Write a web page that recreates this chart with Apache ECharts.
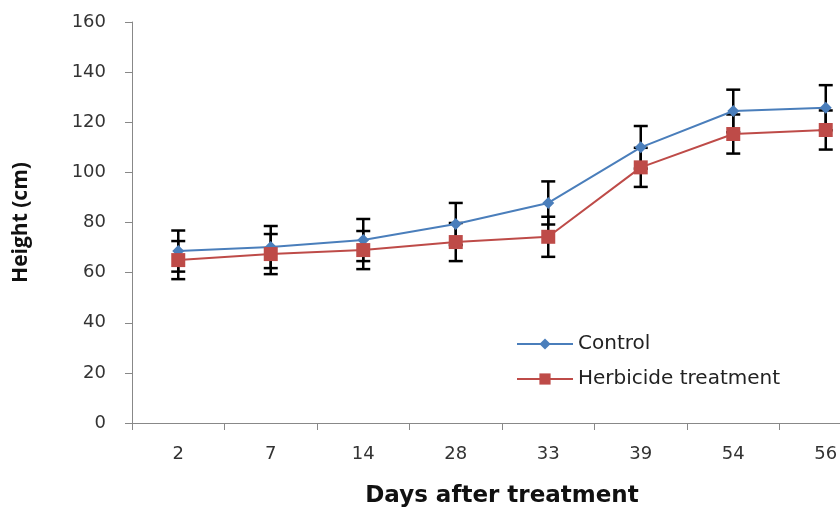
<!DOCTYPE html>
<html><head><meta charset="utf-8">
<script src="https://cdn.jsdelivr.net/npm/echarts@6/dist/echarts.min.js"></script>
<style>html,body{margin:0;padding:0;background:#fff;overflow:hidden;width:840px;height:508px}#c{width:880px;height:508px}</style>
</head><body><div id="c"></div>
<script>
const categories = ['2','7','14','28','33','39','54','56'];
const controlValues = [68.6, 70.2, 73.0, 79.4, 87.8, 110.0, 124.5, 125.8];
const controlErrors = [8.2, 8.4, 8.4, 8.4, 8.6, 8.5, 8.5, 9.0];
const herbicideValues = [65.0, 67.4, 69.0, 72.2, 74.3, 102.0, 115.3, 116.9];
const herbicideErrors = [7.6, 8.0, 7.6, 7.6, 8.0, 7.8, 7.8, 7.8];
const yTicks = {min: 0, max: 160, interval: 20};

const font = '"DejaVu Sans", "Open Sans", sans-serif';

function errData(vals, errs) {
  return vals.map((v, i) => [i, v - errs[i], v + errs[i]]);
}
function errRender(params, api) {
  const x = api.value(0);
  const lo = api.coord([x, api.value(1)]);
  const hi = api.coord([x, api.value(2)]);
  const hw = 7;
  const style = {stroke: '#000', lineWidth: 2.5};
  return {
    type: 'group',
    children: [
      {type: 'line', shape: {x1: lo[0], y1: lo[1], x2: hi[0], y2: hi[1]}, style: style},
      {type: 'line', shape: {x1: lo[0] - hw, y1: lo[1], x2: lo[0] + hw, y2: lo[1]}, style: style},
      {type: 'line', shape: {x1: hi[0] - hw, y1: hi[1], x2: hi[0] + hw, y2: hi[1]}, style: style}
    ]
  };
}

const chart = echarts.init(document.getElementById('c'), null, {renderer: 'canvas'});
chart.setOption({
  animation: false,
  backgroundColor: '#fff',
  grid: {left: 132, top: 22, right: 8, bottom: 85, containLabel: false, outerBoundsMode: 'none'},
  legend: {
    left: 511, top: 329, orient: 'vertical', itemGap: 15,
    itemWidth: 56, itemHeight: 14,
    textStyle: {fontFamily: font, fontSize: 20, color: '#222'},
    data: ['Control', 'Herbicide treatment']
  },
  xAxis: {
    type: 'category', data: categories, boundaryGap: true,
    name: 'Days after treatment', nameLocation: 'middle', nameGap: 62,
    nameTextStyle: {fontFamily: font, fontSize: 23, fontWeight: 'bold', color: '#111'},
    axisLine: {lineStyle: {color: '#888', width: 1}},
    axisTick: {show: true, length: 7, alignWithLabel: false, lineStyle: {color: '#888'}},
    axisLabel: {fontFamily: font, fontSize: 18, color: '#333', margin: 22},
    splitLine: {show: false}
  },
  yAxis: {
    type: 'value', min: yTicks.min, max: yTicks.max, interval: yTicks.interval,
    name: 'Height (cm)', nameLocation: 'middle', nameGap: 100, nameRotate: 90,
    nameTextStyle: {fontFamily: '"Open Sans", sans-serif', fontSize: 21, fontWeight: 'bold', color: '#111'},
    axisLine: {show: true, lineStyle: {color: '#888', width: 1}},
    axisTick: {show: true, length: 7, lineStyle: {color: '#888'}},
    axisLabel: {fontFamily: font, fontSize: 18, color: '#333', margin: 26},
    splitLine: {show: false}
  },
  series: [
    {type: 'custom', name: 'errC', renderItem: errRender, data: errData(controlValues, controlErrors), z: 1, encode: {x: 0, y: [1, 2]}},
    {type: 'custom', name: 'errH', renderItem: errRender, data: errData(herbicideValues, herbicideErrors), z: 1, encode: {x: 0, y: [1, 2]}},
    {type: 'line', name: 'Control', data: controlValues, z: 3,
     symbol: 'diamond', symbolSize: 12, showAllSymbol: true,
     lineStyle: {color: '#4a7ebb', width: 2}, itemStyle: {color: '#4a7ebb'}},
    {type: 'line', name: 'Herbicide treatment', data: herbicideValues, z: 3,
     symbol: 'rect', symbolSize: 14, showAllSymbol: true,
     lineStyle: {color: '#be4b48', width: 2}, itemStyle: {color: '#be4b48'}}
  ]
});
</script></body></html>
